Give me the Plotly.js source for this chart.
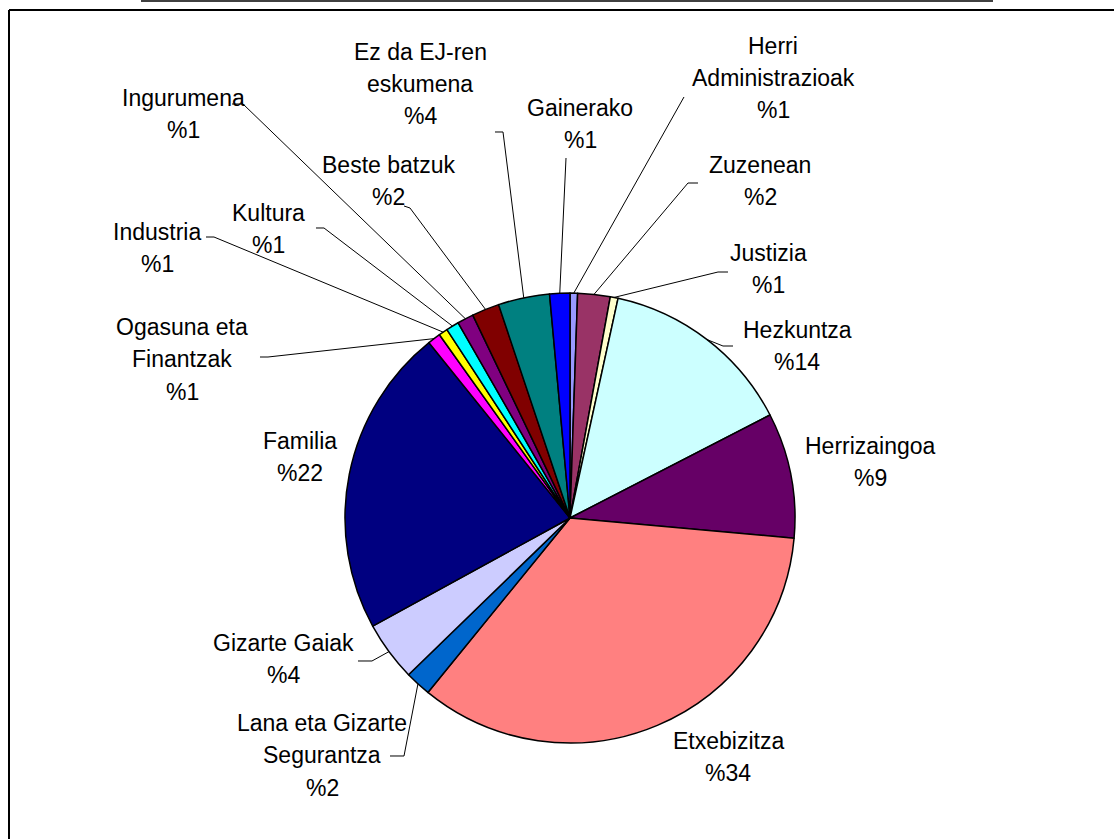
<!DOCTYPE html>
<html>
<head>
<meta charset="utf-8">
<script src="https://cdn.plot.ly/plotly-3.0.1.min.js"></script>
<style>html,body{margin:0;padding:0;background:#fff;}#chart{width:1114px;height:839px;}</style>
</head>
<body>
<div id="chart"></div>
<script>
// ---- data (share of total, %) ----
const categories = [
  "Herri Administrazioak", "Zuzenean", "Justizia", "Hezkuntza", "Herrizaingoa",
  "Etxebizitza", "Lana eta Gizarte Segurantza", "Gizarte Gaiak", "Familia",
  "Ogasuna eta Finantzak", "Industria", "Kultura", "Ingurumena", "Beste batzuk",
  "Ez da EJ-ren eskumena", "Gainerako"
];
const values = [0.54, 2.33, 0.56, 14.0, 9.0, 34.45, 1.86, 4.28, 22.2, 0.93, 0.64, 0.93, 1.17, 1.97, 3.69, 1.45];

// ---- styles ----
const colors = ["#9999FF", "#993366", "#FFFFCC", "#CCFFFF", "#660066", "#FF8080", "#0066CC", "#CCCCFF",
  "#000080", "#FF00FF", "#FFFF00", "#00FFFF", "#800080", "#800000", "#008080", "#0000FF"];
const breakLast = [true, false, false, false, false, false, true, false, false, true, false, false, false, false, true, false];
// label centres (px) and label-side leader points (px)
const labelPos = [[773, 78], [760, 181], [768, 269], [797, 346], [870, 462], [728, 757], [322, 755], [283, 659],
  [300, 457], [182, 359], [157, 248], [268, 229], [183, 114], [388, 181], [420, 84], [580, 124]];
const leaders = [
  [[684, 97]], [[698, 183], [688, 183]], [[728, 272], [718, 272]], [[733, 346], [723, 346]], null, null,
  [[390, 756], [404, 756]], [[358, 661], [372, 661]], null, [[260, 357], [268, 357]], [[206, 237], [214, 237]],
  [[316, 228], [324, 228]], [[232, 104], [243, 104]], [[404, 206], [410, 208]], [[495, 132], [503, 132]], [[566, 158]]
];
const lineGap = 32.5;

const W = 1114, H = 839, cx = 570, cy = 518, R = 225;
const px = x => x / W, py = y => 1 - y / H;
const total = values.reduce((a, b) => a + b, 0);

function nameLines(name, brk) {
  if (!brk) return [name];
  const i = name.lastIndexOf(" ");
  return [name.slice(0, i), name.slice(i + 1)];
}

const annotations = [];
const shapes = [];
let cum = 0;
values.forEach((v, i) => {
  const mid = (cum + v / 2) / total * 2 * Math.PI;
  cum += v;
  const pct = Math.round(v / total * 100);
  const lines = nameLines(categories[i], breakLast[i]).concat(["%" + pct]);
  lines.forEach((t, k) => {
    annotations.push({
      xref: "paper", yref: "paper", x: px(labelPos[i][0]),
      y: py(labelPos[i][1] + (k - (lines.length - 1) / 2) * lineGap),
      xanchor: "center", yanchor: "middle", align: "center", showarrow: false,
      text: t,
      font: {family: "Liberation Sans, Arial, sans-serif", size: 23, color: "#000"}
    });
  });
  if (leaders[i]) {
    const ex = cx + R * Math.sin(mid), ey = cy - R * Math.cos(mid);
    const pts = leaders[i].concat([[ex, ey]]);
    const path = pts.map((p, k) => (k ? "L" : "M") + px(p[0]).toFixed(5) + "," + py(p[1]).toFixed(5)).join(" ");
    shapes.push({type: "path", xref: "paper", yref: "paper", path: path, line: {color: "#000", width: 1}});
  }
});

// frame and top rule
shapes.push({type: "line", xref: "paper", yref: "paper", x0: px(9), x1: px(9), y0: py(10), y1: -0.05, line: {color: "#000", width: 2}});
shapes.push({type: "line", xref: "paper", yref: "paper", x0: px(9), x1: 1.05, y0: py(10), y1: py(10), line: {color: "#000", width: 2}});
shapes.push({type: "line", xref: "paper", yref: "paper", x0: px(141), x1: px(993), y0: py(1), y1: py(1), line: {color: "#000", width: 1.5}});

const trace = {
  type: "pie", labels: categories, values: values, sort: false, direction: "clockwise", rotation: 0,
  textinfo: "none", hoverinfo: "label+percent", showlegend: false,
  marker: {colors: colors, line: {color: "#000", width: 1.5}},
  domain: {x: [px(cx - R), px(cx + R)], y: [py(cy + R), py(cy - R)]}
};

Plotly.newPlot("chart", [trace], {
  width: W, height: H, autosize: false,
  margin: {l: 0, r: 0, t: 0, b: 0},
  paper_bgcolor: "#fff", plot_bgcolor: "#fff",
  annotations: annotations, shapes: shapes
}, {displayModeBar: false, staticPlot: true});
</script>
</body>
</html>
